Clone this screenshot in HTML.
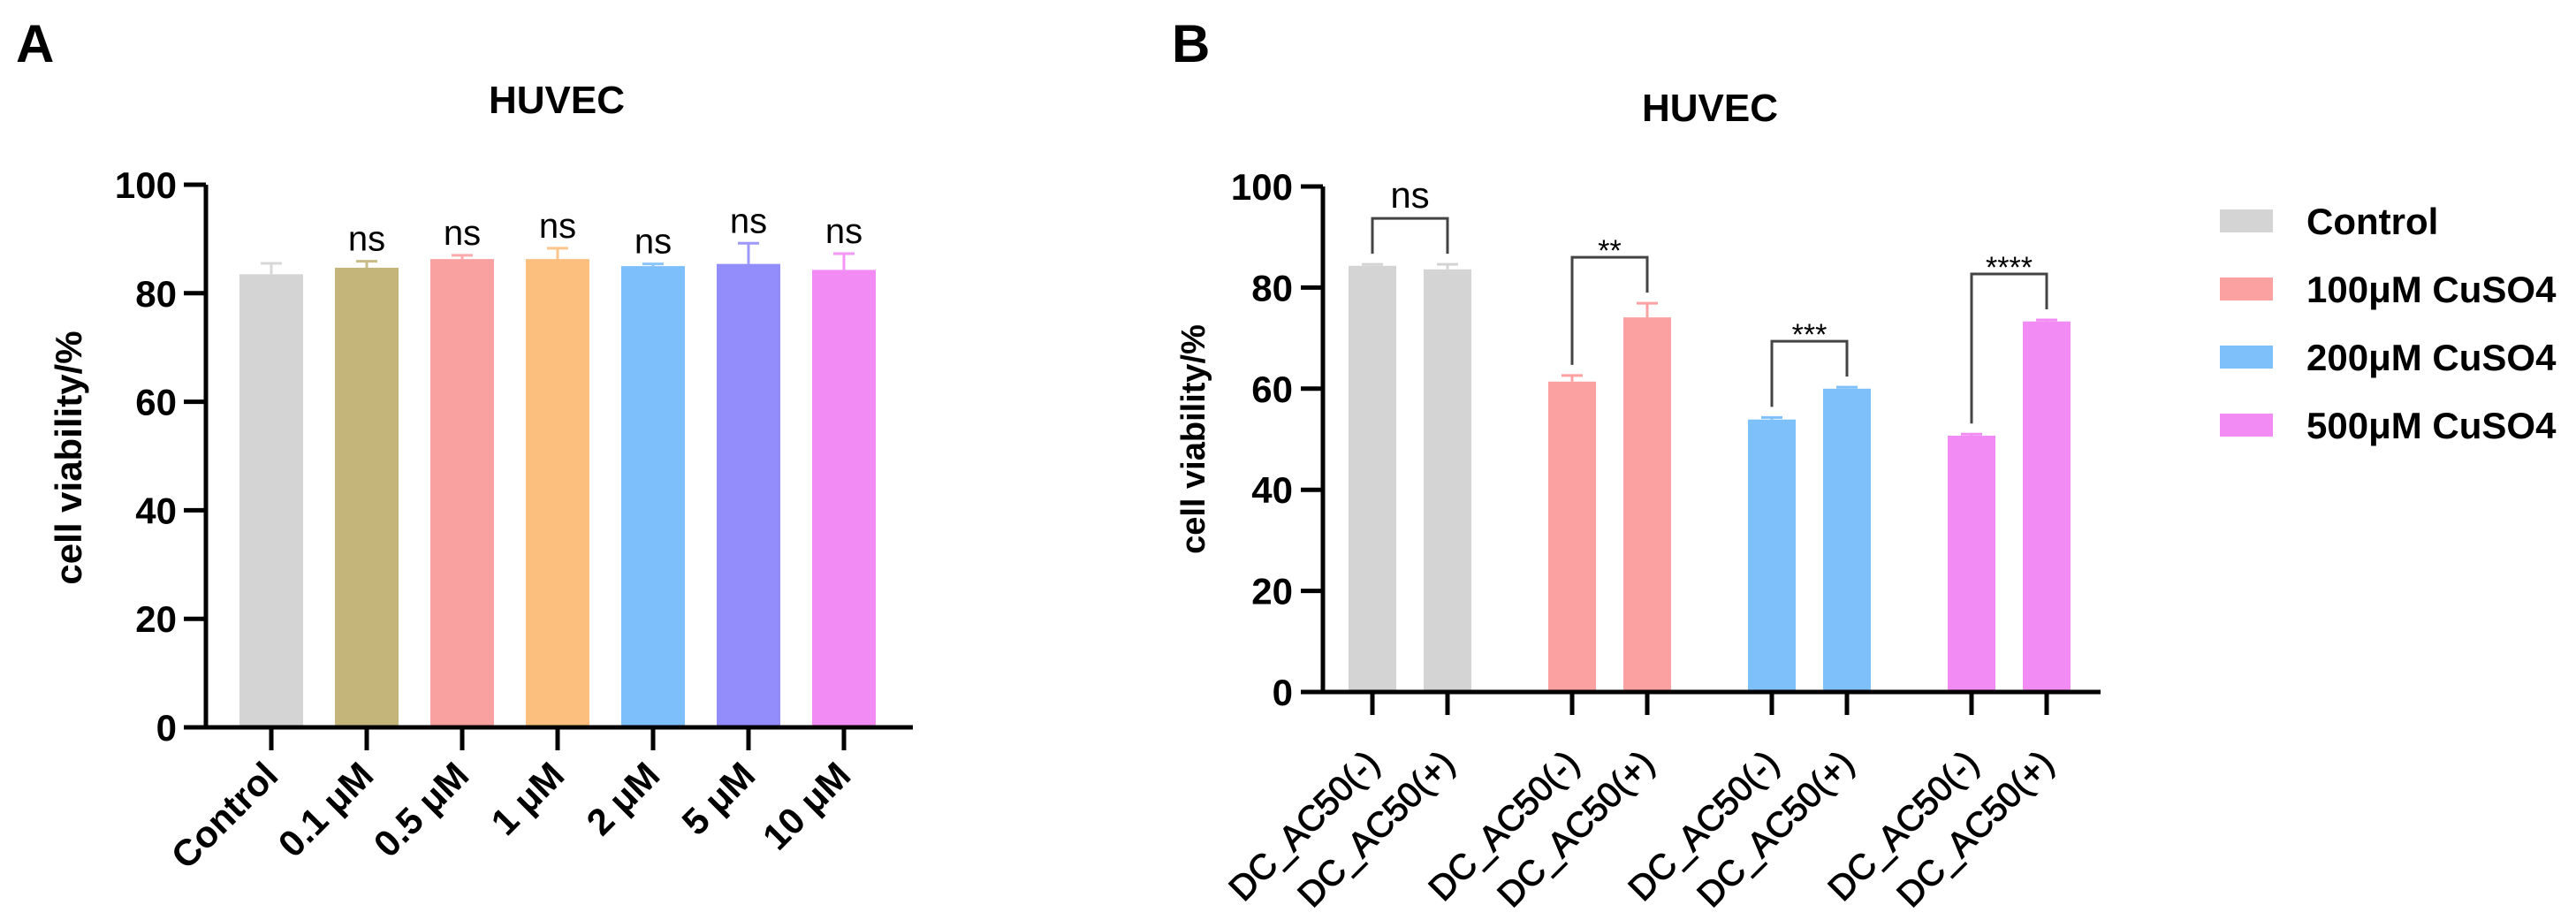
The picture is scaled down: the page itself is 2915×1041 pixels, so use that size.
<!DOCTYPE html>
<html><head><meta charset="utf-8"><style>
html,body{margin:0;padding:0;background:#fff;}
svg{display:block;font-family:"Liberation Sans",Arial,sans-serif;}
</style></head><body>
<svg id="fig" width="2915" height="1041" viewBox="0 0 2915 1041">
<text x="18" y="70" font-size="60" font-weight="bold">A</text>
<text x="630" y="128" font-size="44" font-weight="bold" text-anchor="middle">HUVEC</text>
<text x="1326" y="70" font-size="60" font-weight="bold">B</text>
<text x="1935" y="137" font-size="44" font-weight="bold" text-anchor="middle">HUVEC</text>
<text transform="translate(92,518) rotate(-90)" font-size="42" font-weight="bold" text-anchor="middle">cell viability/%</text>
<text transform="translate(1363,497) rotate(-90)" font-size="38" font-weight="bold" text-anchor="middle">cell viability/%</text>
<g id="ga"></g>
<g id="gb"></g>
<g id="legend"></g>
</svg>
<script>
// Panel A data
const aCategories = ["Control","0.1 \u03bcM","0.5 \u03bcM","1 \u03bcM","2 \u03bcM","5 \u03bcM","10 \u03bcM"];
const aValues = [83.5,84.7,86.3,86.3,85.0,85.4,84.3];
const aErrors = [2.0,1.2,0.7,2.0,0.4,3.8,3.0];
const aSig = ["","ns","ns","ns","ns","ns","ns"];
const aColors = ["#d4d4d4","#c4b57a","#f9a1a1","#fdbf7e","#7dbffb","#928dfb","#f38bf5"];
const yTicks = [0,20,40,60,80,100];
// Panel B data
const bCategories = ["DC_AC50(-)","DC_AC50(+)","DC_AC50(-)","DC_AC50(+)","DC_AC50(-)","DC_AC50(+)","DC_AC50(-)","DC_AC50(+)"];
const bValues = [84.3,83.6,61.4,74.1,53.9,60.0,50.7,73.3];
const bErrors = [0.3,1.0,1.2,2.8,0.4,0.3,0.3,0.3];
const bGroups = ["Control","100\u03bcM CuSO4","200\u03bcM CuSO4","500\u03bcM CuSO4"];
const bGroupColors = ["#d4d4d4","#fca1a1","#7ec0fa","#f38bf4"];
const bSig = ["ns","**","***","****"];

const NS="http://www.w3.org/2000/svg";
function mk(parent,tag,attrs,txt){const e=document.createElementNS(NS,tag);for(const k in attrs)e.setAttribute(k,attrs[k]);if(txt!==undefined)e.textContent=txt;parent.appendChild(e);return e;}

// Panel A
const ga=document.getElementById('ga');
const ayA=v=>823-(v/100)*614;
const axA=i=>307+i*108;
aCategories.forEach((c,i)=>{
  const x=axA(i), w=72;
  const r=mk(ga,'rect',{x:x-w/2,y:ayA(aValues[i]),width:w,height:823-ayA(aValues[i]),fill:aColors[i]});
  
  
  const top=ayA(aValues[i]+aErrors[i]);
  const e1=mk(ga,'path',{d:`M${x} ${ayA(aValues[i])}V${top}M${x-12} ${top}H${x+12}`,stroke:aColors[i],'stroke-width':3,fill:'none',opacity:0.9});
  
  
  if(aSig[i]){
    const t=mk(ga,'text',{x:x,y:top-12,'font-size':40,'text-anchor':'middle'},aSig[i]);
    
    
  }
  const tk=mk(ga,'line',{x1:x,y1:823,x2:x,y2:849,stroke:'#000','stroke-width':5});
  
  
  const lb=mk(ga,'text',{transform:`translate(${x+10},880) rotate(-45)`,'font-size':42,'font-weight':'bold','text-anchor':'end'},c);
  
  
});
let axl=mk(ga,'path',{d:`M233 ${ayA(100)}V823M208 823H1033`,stroke:'#000','stroke-width':5,fill:'none'});


yTicks.forEach(v=>{
  const t=mk(ga,'line',{x1:208,y1:ayA(v),x2:233,y2:ayA(v),stroke:'#000','stroke-width':5});
  
  
  const l=mk(ga,'text',{x:200,y:ayA(v)+15,'font-size':42,'font-weight':'bold','text-anchor':'end'},v);
  
  
});

// Panel B
const gb=document.getElementById('gb');
const ayB=v=>783-(v/100)*572;
const axB=i=>1553+Math.floor(i/2)*226+(i%2)*85;
bCategories.forEach((c,i)=>{
  const x=axB(i), w=54, col=bGroupColors[Math.floor(i/2)];
  const r=mk(gb,'rect',{x:x-w/2,y:ayB(bValues[i]),width:w,height:783-ayB(bValues[i]),fill:col});
  
  
  const top=ayB(bValues[i]+bErrors[i]);
  const e1=mk(gb,'path',{d:`M${x} ${ayB(bValues[i])}V${top}M${x-12} ${top}H${x+12}`,stroke:col,'stroke-width':3,fill:'none'});
  
  
  const tk=mk(gb,'line',{x1:x,y1:783,x2:x,y2:809,stroke:'#000','stroke-width':5});
  
  
  const lb=mk(gb,'text',{transform:`translate(${x+10},866) rotate(-45)`,'font-size':40,'text-anchor':'end',stroke:'#000','stroke-width':1}, c);
  
  
});
bSig.forEach((s,g)=>{
  const i0=g*2,i1=g*2+1;
  const x0=axB(i0),x1=axB(i1);
  const t0=ayB(bValues[i0]+bErrors[i0])-12, t1=ayB(bValues[i1]+bErrors[i1])-12;
  const yb=Math.min(t0,t1)-40;
  const p=mk(gb,'path',{d:`M${x0} ${t0}V${yb}H${x1}V${t1}`,stroke:'#444','stroke-width':3,fill:'none'});
  
  
  const isNs=s==='ns';
  const t=mk(gb,'text',{x:(x0+x1)/2,y:isNs?yb-12:yb+4,'font-size':isNs?42:34,'text-anchor':'middle'},s);
  
  
});
let bxl=mk(gb,'path',{d:`M1497 ${ayB(100)}V783M1472 783H2377`,stroke:'#000','stroke-width':5,fill:'none'});


yTicks.forEach(v=>{
  const t=mk(gb,'line',{x1:1472,y1:ayB(v),x2:1497,y2:ayB(v),stroke:'#000','stroke-width':5});
  
  
  const l=mk(gb,'text',{x:1463,y:ayB(v)+15,'font-size':42,'font-weight':'bold','text-anchor':'end'},v);
  
  
});

// Legend
const lg=document.getElementById('legend');
bGroups.forEach((g,i)=>{
  const cy=250+i*77;
  const r=mk(lg,'rect',{x:2512,y:cy-13,width:60,height:26,fill:bGroupColors[i]});
  
  
  const t=mk(lg,'text',{x:2610,y:cy+15,'font-size':42,'font-weight':'bold'},g);
  
  
});
</script>
</body></html>
